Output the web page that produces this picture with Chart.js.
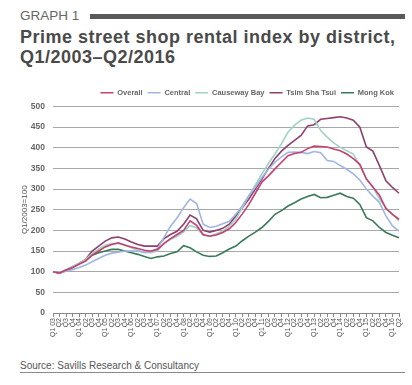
<!DOCTYPE html>
<html><head><meta charset="utf-8">
<script src="https://cdn.jsdelivr.net/npm/chart.js@4.4.1/dist/chart.umd.min.js"></script>
<style>
html,body{margin:0;padding:0;background:#fff;}
body{width:412px;height:385px;position:relative;overflow:hidden;font-family:"Liberation Sans",Arial,sans-serif;}
#g1{position:absolute;left:20px;top:8px;font-size:13.5px;color:#666;line-height:16px;}
#bar{position:absolute;left:90px;top:14px;width:315px;height:5px;background:#5a5a5a;}
#title{position:absolute;left:20px;top:28px;font-size:18px;font-weight:bold;color:#4a4a4a;line-height:19.5px;letter-spacing:0.5px;}
#src{position:absolute;left:20px;top:360px;font-size:10px;color:#555;line-height:12px;}
#srcline{position:absolute;left:20px;top:372px;width:385px;height:1px;background:#8a8a8a;}
#wrap{position:absolute;left:0;top:80px;width:412px;height:265px;}
</style></head>
<body>
<div id="g1">GRAPH 1</div>
<div id="bar"></div>
<div id="title">Prime street shop rental index by district,<br>Q1/2003–Q2/2016</div>
<div id="wrap"><canvas id="c" width="412" height="265"></canvas></div>
<div id="src">Source: Savills Research &amp; Consultancy</div>
<div id="srcline"></div>
<script>
const categories = [
 "Q1 03","Q2","Q3","Q4","Q1 04","Q2","Q3","Q4","Q1 05","Q2","Q3","Q4",
 "Q1 06","Q2","Q3","Q4","Q1 07","Q2","Q3","Q4","Q1 08","Q2","Q3","Q4",
 "Q1 09","Q2","Q3","Q4","Q1 10","Q2","Q3","Q4","Q1 11","Q2","Q3","Q4",
 "Q1 12","Q2","Q3","Q4","Q1 13","Q2","Q3","Q4","Q1 14","Q2","Q3","Q4",
 "Q1 15","Q2","Q3","Q4","Q1 16","Q2"];
const overall = [100,97,104,110,118,126,140,150,160,166,170,164,160,156,152,150,154,168,180,190,200,223,212,190,186,189,195,204,219,240,263,290,317,332,349,365,381,386,389,398,404,403,402,397,393,385,374,360,325,305,285,253,239,227];
const central = [100,97,101,105,110,116,124,132,140,145,147,150,150,150,146,148,156,183,210,230,255,276,265,215,207,210,216,222,239,260,284,305,328,348,365,378,389,390,389,386,391,388,369,367,357,348,337,322,300,283,268,235,211,198];
const causewayBay = [100,98,105,113,120,130,144,155,164,168,168,166,158,152,147,146,150,170,178,186,196,212,206,188,186,192,198,210,227,255,284,310,337,362,385,410,438,455,467,472,469,442,426,412,401,393,385,357,324,305,276,255,239,223];
const tsimShaTsui = [100,96,103,110,120,130,150,162,174,182,184,179,172,166,162,162,162,180,190,198,215,237,228,200,196,200,205,215,235,255,276,300,324,350,374,392,406,418,430,453,456,469,471,473,475,472,467,450,402,392,357,320,304,290];
const mongKok = [100,97,104,112,120,128,140,146,150,154,154,150,146,142,137,132,136,138,144,148,163,158,148,140,137,138,146,155,162,175,186,196,207,222,239,248,259,267,276,282,287,279,280,285,290,282,278,263,231,223,207,195,188,182];
const seriesNames = ["Overall","Central","Causeway Bay","Tsim Sha Tsui","Mong Kok"];
const seriesData = [overall, central, causewayBay, tsimShaTsui, mongKok];
const seriesColors = ["#c6406f","#9fb6e3","#9fd3c3","#8e3f6e","#3a7a59"];
const yMin = 0, yMax = 500, yStep = 50;
const F = "'Liberation Sans', Arial, sans-serif";

new Chart(document.getElementById('c'), {
  type: 'line',
  data: {
    labels: categories,
    datasets: seriesNames.map((n, k) => ({
      label: n, data: seriesData[k], borderColor: seriesColors[k], backgroundColor: seriesColors[k],
      borderWidth: 1.6, pointRadius: 0, tension: 0, fill: false
    }))
  },
  options: {
    responsive: false, animation: false,
    layout: { padding: { left: 20, right: 13, top: 4, bottom: 0 } },
    plugins: {
      tooltip: { enabled: false },
      legend: {
        position: 'top', align: 'end',
        labels: { usePointStyle: true, pointStyle: 'line', pointStyleWidth: 13, boxHeight: 8,
          font: { size: 7.5, weight: 'bold', family: F }, color: '#666', padding: 5 }
      }
    },
    scales: {
      x: {
        type: 'category', offset: false,
        grid: { drawOnChartArea: false, drawTicks: true, tickLength: 4, color: '#888' },
        border: { color: '#888' },
        ticks: { autoSkip: false, maxRotation: 90, minRotation: 90, font: { size: 7, family: F }, color: '#555', padding: 1 },
        afterFit(s) { s.height = 32; }
      },
      y: {
        min: yMin, max: yMax,
        ticks: { stepSize: yStep, font: { size: 8.5, weight: 'bold', family: F }, color: '#666', padding: 8 },
        grid: { color: '#a8a8a8', drawTicks: false },
        border: { display: false },
        title: { display: true, text: 'Q1/2003=100', font: { size: 8, family: F }, color: '#555', padding: 0 },
        afterFit(s) { s.width = 33; }
      }
    }
  }
});
</script>
</body></html>
